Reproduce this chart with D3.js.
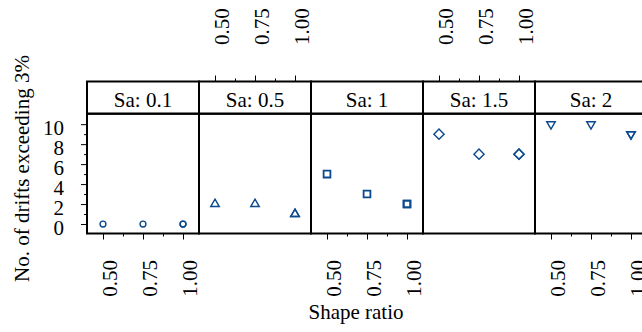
<!DOCTYPE html>
<html>
<head>
<meta charset="utf-8">
<script src="https://cdn.jsdelivr.net/npm/d3@7"></script>
<style>
  body { margin: 0; background: #fff; overflow: hidden; }
  svg { display: block; }
  .axis path.domain { display: none; }
  .axis line { stroke: #000; stroke-width: 1; }
</style>
</head>
<body>
<div id="chart"></div>
<script>
// data
var saLabels = ["Sa: 0.1", "Sa: 0.5", "Sa: 1", "Sa: 1.5", "Sa: 2"];
var shapeRatio = [0.5, 0.75, 1.0];
var reps = [1, 1, 2]; // observations at each shape ratio (overplotted)
var driftsSa01 = [0, 0, 0];
var driftsSa05 = [2, 2, 1];
var driftsSa1 = [5, 3, 2];
var driftsSa15 = [9, 7, 7];
var driftsSa2 = [10, 10, 9];
var xTicks = [0.5, 0.75, 1.0];
var xMinorTicks = [0.625, 0.875];
var yTicks = [0, 2, 4, 6, 8, 10];
var yMinorTicks = [1, 3, 5, 7, 9];

var series = [driftsSa01, driftsSa05, driftsSa1, driftsSa15, driftsSa2];
var symbols = ["circle", "triangleUp", "square", "diamond", "triangleDown"];

var W = 642, H = 332;
var left = 87, panelW = 112, stripTop = 81.5, stripBot = 113.7, panelBot = 233.5;
var col = "#0b4a8e";
var font = "'Liberation Serif'";

var svg = d3.select("#chart").append("svg")
    .attr("width", W).attr("height", H);

var x = d3.scaleLinear().domain([0.4, 1.1]).range([0, panelW]);
var y = d3.scaleLinear().domain([-0.95, 11.05]).range([panelBot, stripBot]);

function symbolPath(name) {
  if (name == "circle") return d3.symbol(d3.symbolCircle, 27)();
  if (name == "square") return d3.symbol(d3.symbolSquare, 46)();
  if (name == "diamond") return d3.symbol(d3.symbolSquare, 52)();
  return d3.symbol(d3.symbolTriangle, 32)();
}
function symbolRot(name) {
  if (name == "diamond") return 45;
  if (name == "triangleDown") return 180;
  return 0;
}

series.forEach(function(vals, i) {
  var g = svg.append("g").attr("transform", "translate(" + (left + i * panelW) + ",0)");

  // x axes alternate bottom / top
  if (i % 2 == 0) {
    var ax = g.append("g").attr("class", "axis")
        .attr("transform", "translate(0," + panelBot + ")")
        .call(d3.axisBottom(x).tickValues(xTicks).tickSize(6).tickFormat(d3.format(".2f")));
    ax.selectAll("text")
        .attr("transform", "rotate(-90)")
        .attr("text-anchor", "end")
        .attr("x", -26.5).attr("y", 13.5).attr("dy", 0);
    g.append("g").attr("class", "axis")
        .attr("transform", "translate(0," + panelBot + ")")
        .call(d3.axisBottom(x).tickValues(xMinorTicks).tickSize(3).tickFormat(""));
  } else {
    var axt = g.append("g").attr("class", "axis")
        .attr("transform", "translate(0," + stripTop + ")")
        .call(d3.axisTop(x).tickValues(xTicks).tickSize(6).tickFormat(d3.format(".2f")));
    axt.selectAll("text")
        .attr("transform", "rotate(-90)")
        .attr("text-anchor", "start")
        .attr("x", 36.5).attr("y", 13.5).attr("dy", 0);
    g.append("g").attr("class", "axis")
        .attr("transform", "translate(0," + stripTop + ")")
        .call(d3.axisTop(x).tickValues(xMinorTicks).tickSize(3).tickFormat(""));
  }

  // points
  var pts = [];
  shapeRatio.forEach(function(s, j) {
    for (var k = 0; k < reps[j]; k++) pts.push({ sr: s, n: vals[j] });
  });
  g.selectAll(".pt").data(pts).enter().append("path")
      .attr("class", "pt")
      .attr("d", symbolPath(symbols[i]))
      .attr("transform", function(d) {
        return "translate(" + x(d.sr) + "," + y(d.n) + ") rotate(" + symbolRot(symbols[i]) + ")";
      })
      .attr("fill", "none")
      .attr("stroke", col)
      .attr("stroke-width", symbols[i] == "square" ? 1.8 : 1.4);

  // strip + panel borders
  g.append("rect")
      .attr("x", 0).attr("y", stripTop)
      .attr("width", panelW).attr("height", stripBot - stripTop)
      .attr("fill", "none").attr("stroke", "#000").attr("stroke-width", 2);
  g.append("rect")
      .attr("x", 0).attr("y", stripBot)
      .attr("width", panelW).attr("height", panelBot - stripBot)
      .attr("fill", "none").attr("stroke", "#000").attr("stroke-width", 2);
  g.append("text")
      .attr("x", panelW / 2).attr("y", 106.7)
      .attr("text-anchor", "middle")
      .text(saLabels[i]);
});

// y axis
var ay = svg.append("g").attr("class", "axis")
    .attr("transform", "translate(" + left + ",0)")
    .call(d3.axisLeft(y).tickValues(yTicks).tickSize(6));
ay.selectAll("text")
    .attr("x", -23).attr("dy", 0).attr("y", 10.7);
svg.append("g").attr("class", "axis")
    .attr("transform", "translate(" + left + ",0)")
    .call(d3.axisLeft(y).tickValues(yMinorTicks).tickSize(3).tickFormat(""));

// axis titles
svg.append("text")
    .attr("transform", "translate(28.5,168.5) rotate(-90)")
    .attr("text-anchor", "middle")
    .text("No. of drifts exceeding 3%");
svg.append("text")
    .attr("x", 356).attr("y", 319)
    .attr("text-anchor", "middle")
    .text("Shape ratio");

// same serif face everywhere
svg.selectAll("text")
    .style("font-family", font)
    .style("font-size", "21px")
    .attr("fill", "#000");
</script>
</body>
</html>
